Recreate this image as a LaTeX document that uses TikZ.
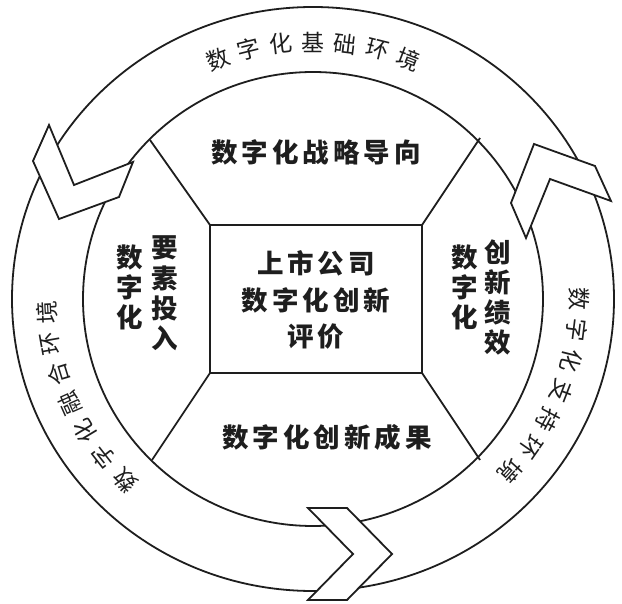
\documentclass[tikz,border=0pt]{standalone}
\usepackage{fontspec}
\newfontfamily\cjk{Noto Sans CJK SC}
\definecolor{ink}{HTML}{1E1E1E}
\begin{document}
\begin{tikzpicture}[x=1pt,y=-1pt,
  ring/.style={draw=ink, line width=1.8pt},
  chev/.style={draw=ink, fill=white, line width=1.8pt, line join=miter},
  sep/.style={draw=ink, line width=1.8pt},
  bt/.style={font=\cjk\bfseries\fontsize{26.5}{36.5}\selectfont\addfontfeature{LetterSpace=15}, inner sep=0pt, text=ink},
  vt/.style={font=\cjk\bfseries\fontsize{26.5}{26.5}\selectfont, inner sep=0pt, text=ink},
  rt/.style={font=\cjk\fontsize{23}{23}\selectfont, inner sep=0pt, text=ink}]
\useasboundingbox (0,0) rectangle (622,604);
\fill[white] (0,0) rectangle (622,604);
% ring
\draw[ring] (313,299) ellipse [x radius=301, y radius=292];
\draw[ring] (313,299) ellipse [x radius=230, y radius=227];
% chevrons
\draw[chev] (49,125) -- (74,185) -- (133,162) -- (119,197) -- (59,219) -- (33,161) -- cycle;
\draw[chev] (308,508) -- (347,508) -- (392,554) -- (347,600) -- (308,600) -- (353,554) -- cycle;
\draw[chev] (534,144) -- (595,166) -- (611,201) -- (550,179) -- (526,238) -- (511,203) -- cycle;
% central box and dividers
\coordinate (tl) at (210,225);
\coordinate (tr) at (422,225);
\coordinate (bl) at (210,373);
\coordinate (br) at (422,373);
\coordinate (itl) at (150,140);
\coordinate (itr) at (480,138);
\coordinate (ibl) at (152,460);
\coordinate (ibr) at (480,460);
\draw[sep] (tl) -- (itl);
\draw[sep] (tr) -- (itr);
\draw[sep] (bl) -- (ibl);
\draw[sep] (br) -- (ibr);
\draw[sep, fill=white] (tl) rectangle (br);
% inner texts
\node[bt] (strat) at (316,152) {数字化战略导向};
\node[bt] (result) at (327,437) {数字化创新成果};
\node[bt, align=center] (core) at (316,300) {上市公司\\数字化创新\\评价};
\foreach \c [count=\i from 0] in {数,字,化} {
  \node[vt] (la\i) at (130,{257+30*\i}) {\c};
  \node[vt] (ra\i) at (465,{257+30*\i}) {\c};
}
\foreach \c [count=\i from 0] in {要,素,投,入} {
  \node[vt] (lb\i) at (165,{248+30*\i}) {\c};
}
\foreach \c [count=\i from 0] in {创,新,绩,效} {
  \node[vt] (rb\i) at (498,{252+30*\i}) {\c};
}
% ring texts
\foreach \c [count=\i from 0] in {数,字,化,基,础,环,境} {
  \pgfmathsetmacro\a{111-7*\i}
  \pgfmathsetmacro\r{\a-90}
  \node[rt, rotate=\r] (top\i) at ({313+266*cos(\a)},{299-257*sin(\a)}) {\c};
}
\foreach \c [count=\i from 0] in {数,字,化,融,合,环,境} {
  \pgfmathsetmacro\a{225-7*\i}
  \pgfmathsetmacro\r{\a-90}
  \node[rt, rotate=\r] (lft\i) at ({313+266*cos(\a)},{299-257*sin(\a)}) {\c};
}
\foreach \c [count=\i from 0] in {数,字,化,支,持,环,境} {
  \pgfmathsetmacro\a{0-7*\i}
  \pgfmathsetmacro\r{\a-90}
  \node[rt, rotate=\r] (rgt\i) at ({313+266*cos(\a)},{299-257*sin(\a)}) {\c};
}
\end{tikzpicture}
\end{document}
